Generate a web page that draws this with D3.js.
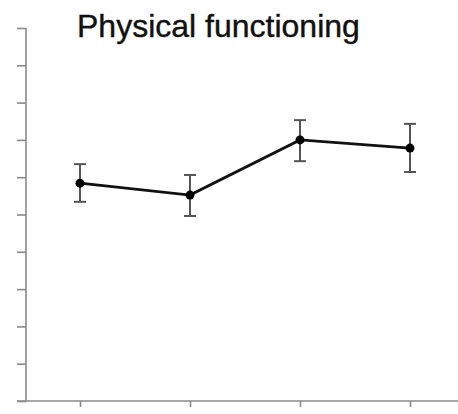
<!DOCTYPE html>
<html>
<head>
<meta charset="utf-8">
<script src="https://cdn.jsdelivr.net/npm/d3@7"></script>
<style>
  body { margin: 0; background: #fff; }
</style>
</head>
<body>
<div id="chart"></div>
<script>
// Data (y scale 0-100, no tick labels shown)
let timepoints = ["T1", "T2", "T3", "T4"]
let means = [58.4, 55.2, 70.0, 67.8]
let upper = [63.5, 60.6, 75.3, 74.3]
let lower = [53.4, 49.6, 64.3, 61.4]
let yTicks = [0, 10, 20, 30, 40, 50, 60, 70, 80, 90, 100]

let width = 458, height = 414

let svg = d3.select("#chart").append("svg")
  .attr("width", width)
  .attr("height", height)

let x = d3.scalePoint()
  .domain(timepoints)
  .range([80, 410])

let y = d3.scaleLinear()
  .domain([0, 100])
  .range([401, 28])

// y axis, ticks only
let yAxis = svg.append("g")
  .attr("transform", "translate(26,0)")
  .call(d3.axisLeft(y).tickValues(yTicks).tickSize(9).tickFormat(""))
yAxis.select(".domain").remove()
yAxis.append("line")
  .attr("x1", 0).attr("x2", 0)
  .attr("y1", y(100)).attr("y2", y(0))
yAxis.selectAll("line")
  .attr("stroke", "#8a8a8a")
  .attr("stroke-width", 1.6)

// x axis, ticks only
let xAxis = svg.append("g")
  .attr("transform", "translate(0,401)")
  .call(d3.axisBottom(x).tickSize(6).tickFormat(""))
xAxis.select(".domain").remove()
xAxis.append("line")
  .attr("x1", 17).attr("x2", width)
  .attr("y1", 0).attr("y2", 0)
xAxis.selectAll("line")
  .attr("stroke", "#8a8a8a")
  .attr("stroke-width", 1.6)

let data = timepoints.map((t, i) => ({t: t, m: means[i], hi: upper[i], lo: lower[i]}))

// error bars
let bars = svg.append("g")
  .attr("stroke", "#555")
  .attr("stroke-width", 2)
bars.selectAll(".stem")
  .data(data)
  .enter()
  .append("line")
  .attr("x1", d => x(d.t)).attr("x2", d => x(d.t))
  .attr("y1", d => y(d.hi)).attr("y2", d => y(d.lo))
bars.selectAll(".capTop")
  .data(data)
  .enter()
  .append("line")
  .attr("x1", d => x(d.t) - 6).attr("x2", d => x(d.t) + 6)
  .attr("y1", d => y(d.hi)).attr("y2", d => y(d.hi))
bars.selectAll(".capBot")
  .data(data)
  .enter()
  .append("line")
  .attr("x1", d => x(d.t) - 6).attr("x2", d => x(d.t) + 6)
  .attr("y1", d => y(d.lo)).attr("y2", d => y(d.lo))

// mean line
let line = d3.line()
  .x(d => x(d.t))
  .y(d => y(d.m))

svg.append("path")
  .datum(data)
  .attr("d", line)
  .attr("fill", "none")
  .attr("stroke", "#111")
  .attr("stroke-width", 2.8)

svg.selectAll(".pt")
  .data(data)
  .enter()
  .append("circle")
  .attr("cx", d => x(d.t))
  .attr("cy", d => y(d.m))
  .attr("r", 4.5)
  .attr("fill", "#000")

// title
svg.append("text")
  .attr("x", 77)
  .attr("y", 37)
  .attr("font-family", "Liberation Sans, Arial, sans-serif")
  .attr("font-size", 32)
  .attr("fill", "#111")
  .attr("stroke", "#111")
  .attr("stroke-width", 0.4)
  .text("Physical functioning")
</script>
</body>
</html>
